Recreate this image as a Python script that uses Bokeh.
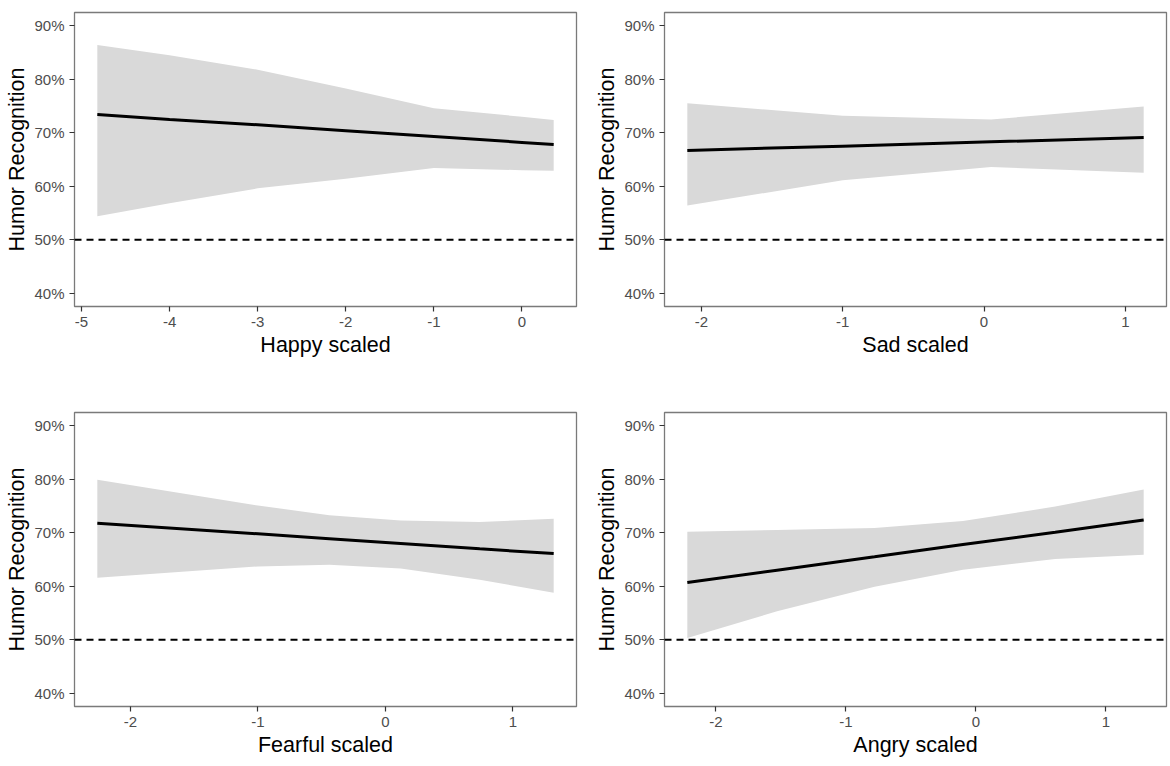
from bokeh.plotting import figure
from bokeh.layouts import column, row
from bokeh.models import Range1d, FixedTicker, NumeralTickFormatter, Span, CustomJSTickFormatter
from bokeh.embed import file_html
from bokeh.resources import INLINE

# ---- data (percent values) ----
happy_x = [-4.82, -4.0, -3.0, -2.0, -1.0, 0.0, 0.36]
happy_fit = [73.4, 72.5, 71.5, 70.4, 69.3, 68.2, 67.8]
happy_lo = [54.4, 56.8, 59.6, 61.4, 63.4, 63.0, 62.9]
happy_hi = [86.4, 84.5, 81.8, 78.3, 74.6, 73.0, 72.4]

sad_x = [-2.10, -1.0, 0.05, 1.13]
sad_fit = [66.7, 67.5, 68.3, 69.1]
sad_lo = [56.4, 61.1, 63.6, 62.5]
sad_hi = [75.5, 73.2, 72.5, 74.9]

fear_x = [-2.26, -1.0, -0.44, 0.12, 0.74, 1.32]
fear_fit = [71.8, 69.8, 68.9, 68.0, 67.0, 66.1]
fear_lo = [61.6, 63.7, 64.0, 63.3, 61.2, 58.8]
fear_hi = [79.9, 75.1, 73.3, 72.3, 72.0, 72.6]

angry_x = [-2.22, -1.53, -0.78, -0.10, 0.61, 1.29]
angry_fit = [60.7, 63.0, 65.5, 67.8, 70.1, 72.4]
angry_lo = [50.3, 55.3, 59.9, 63.1, 65.1, 65.9]
angry_hi = [70.2, 70.5, 70.9, 72.2, 74.9, 78.1]

x_labels = ["Happy scaled", "Sad scaled", "Fearful scaled", "Angry scaled"]
y_label = "Humor Recognition"
y_ticks = [0.4, 0.5, 0.6, 0.7, 0.8, 0.9]
happy_ticks = [-5, -4, -3, -2, -1, 0]
other_ticks = [-2, -1, 0, 1]
chance_level = 0.5

FONT = "Liberation Sans"


def panel(xs, fit, lo, hi, xlabel, xticks, borders):
    bl, br, bt, bb = borders
    xmin, xmax = min(xs), max(xs)
    pad = 0.05 * (xmax - xmin)
    p = figure(frame_width=502, frame_height=294,
               x_range=Range1d(xmin - pad, xmax + pad),
               y_range=Range1d(0.375, 0.925),
               output_backend="svg", toolbar_location=None,
               min_border_left=bl, min_border_right=br,
               min_border_top=bt, min_border_bottom=bb)
    p.background_fill_color = "white"
    p.border_fill_color = "white"
    p.outline_line_color = "#7a7a7a"
    p.outline_line_width = 1.3
    p.grid.visible = False

    p.varea(x=xs, y1=[v / 100 for v in lo], y2=[v / 100 for v in hi],
            fill_color="#d9d9d9", fill_alpha=1.0)
    p.add_layout(Span(location=chance_level, dimension="width",
                      line_color="black", line_dash="7 5", line_width=2))
    p.line(x=xs, y=[v / 100 for v in fit], line_color="black", line_width=3)

    for ax in (p.xaxis[0], p.yaxis[0]):
        ax.axis_line_color = None
        ax.major_tick_line_color = "#333333"
        ax.major_tick_line_width = 1.2
        ax.major_tick_out = 5
        ax.major_tick_in = 0
        ax.minor_tick_line_color = None
        ax.major_label_text_font = FONT
        ax.major_label_text_font_size = "15px"
        ax.major_label_text_color = "#4d4d4d"
        ax.axis_label_text_font = FONT
        ax.axis_label_text_font_size = "21.5px"
        ax.axis_label_text_font_style = "normal"
        ax.axis_label_text_color = "black"

    p.xaxis[0].ticker = FixedTicker(ticks=xticks)
    p.xaxis[0].formatter = CustomJSTickFormatter(code="return String(Math.round(tick));")
    p.xaxis[0].axis_label = xlabel
    p.xaxis[0].major_label_standoff = 5
    p.xaxis[0].axis_label_standoff = 3

    p.yaxis[0].ticker = FixedTicker(ticks=y_ticks)
    p.yaxis[0].formatter = NumeralTickFormatter(format="0%")
    p.yaxis[0].axis_label = y_label
    p.yaxis[0].major_label_standoff = 5
    p.yaxis[0].axis_label_standoff = 2
    return p


p1 = panel(happy_x, happy_fit, happy_lo, happy_hi, x_labels[0], happy_ticks, (74, 14, 12, 102))
p2 = panel(sad_x, sad_fit, sad_lo, sad_hi, x_labels[1], other_ticks, (74, 2, 12, 102))
p3 = panel(fear_x, fear_fit, fear_lo, fear_hi, x_labels[2], other_ticks, (74, 14, 4, 50))
p4 = panel(angry_x, angry_fit, angry_lo, angry_hi, x_labels[3], other_ticks, (74, 2, 4, 50))

layout = column(row(p1, p2), row(p3, p4))

open("out.html", "w").write(file_html(layout, INLINE))
